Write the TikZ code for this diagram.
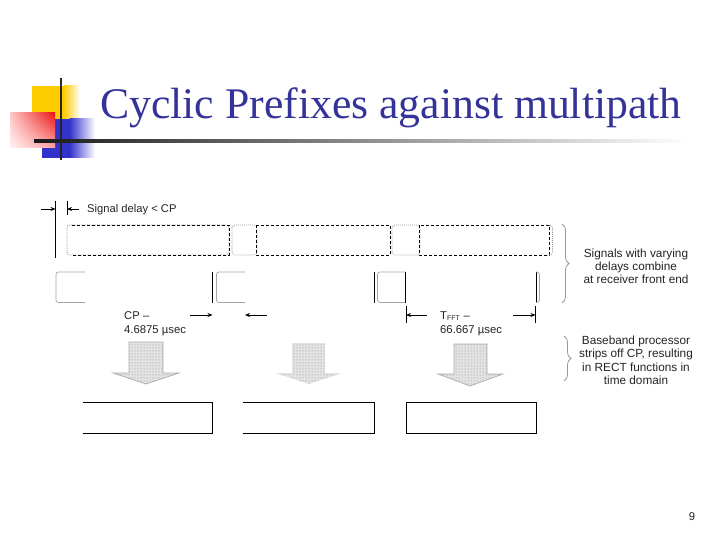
\documentclass[tikz,border=0pt]{standalone}
\usepackage{fontspec}
\setmainfont{Liberation Sans}
\newfontfamily\titlefont{Liberation Serif}
\usetikzlibrary{patterns,decorations.pathreplacing,arrows.meta,shadings}
\definecolor{titleblue}{RGB}{51,51,153}
\definecolor{logoyellow}{RGB}{255,204,0}
\definecolor{logored}{RGB}{235,20,20}
\definecolor{logoblue}{RGB}{51,51,204}
\definecolor{ink}{RGB}{35,35,35}
\begin{document}
\begin{tikzpicture}[x=1pt,y=-1pt,
  lbl/.style={font=\fontsize{11.3}{13}\selectfont, text=ink, inner sep=0pt},
  note/.style={font=\fontsize{11.8}{13}\selectfont, text=ink, inner sep=0pt},
  bodybox/.style={draw=black, dash pattern=on 3pt off 2pt, line width=0.8pt},
  cpbox/.style={draw=gray!75, dash pattern=on 1pt off 1pt, line width=0.8pt, rounded corners=3pt},
  ghost/.style={draw=gray!70, line width=0.7pt, rounded corners=2.5pt},
  solid edge/.style={draw=black, line width=0.8pt},
  tip/.style={-{Stealth[length=5pt,width=4pt]}, line width=0.7pt, draw=black},
  blockarrow/.style={fill=gray!22, postaction={pattern=dots, pattern color=gray!90}},
  rbrace/.style={decorate, decoration={brace, amplitude=7pt}, draw=gray!80, line width=0.8pt},
  resultbox/.style={draw=black, line width=0.9pt}
]
\useasboundingbox (0,0) rectangle (720,540);

% ---------- logo ----------
\fill[logoyellow] (32,86) rectangle (64,120);
\shade[left color=logoyellow, right color=white] (63.5,86) rectangle (80,120);
\fill[logoblue] (42,119) rectangle (70,158);
\shade[left color=logoblue, right color=white] (69.5,119) rectangle (95,158);
\shade[upper right=logored, upper left=red!22, lower right=red!35, lower left=red!5] (10,113) rectangle (55,148);
\fill[black!85] (60,78) rectangle (62.2,160);
\shade[left color=black!90, middle color=black!45, right color=white] (34,140) rectangle (690,142.4);

% ---------- title ----------
\node[anchor=base west, inner sep=0pt, text=titleblue,
      font=\titlefont\fontsize{43.7}{50}\selectfont] (title) at (100,119)
      {Cyclic Prefixes against multipath};

% ---------- signal delay marker ----------
\draw[solid edge] (55.5,201) -- (55.5,258);
\draw[solid edge] (67,201) -- (67,215);
\coordinate (dl0) at (41,209);
\coordinate (dl1) at (55.5,209);
\coordinate (dr0) at (79,209);
\coordinate (dr1) at (67,209);
\draw[tip] (dl0) -- (dl1);
\draw[tip] (dr0) -- (dr1);
\node[lbl, anchor=base west, font=\fontsize{11.2}{12}\selectfont] (sigdelay) at (87,213) {Signal delay < CP};

% ---------- upper row: transmitted symbols ----------
\draw[cpbox] (67,225) rectangle (229,255);
\draw[bodybox] (72,225) -- (229,225) -- (229,255) -- (72,255);
\draw[cpbox] (232,225) rectangle (257,255);
\draw[bodybox] (256,225) rectangle (390,255);
\draw[cpbox] (392,225) rectangle (420,255);
\draw[bodybox] (419,225) rectangle (549,255);
\draw[cpbox] (546,225) -- (552.5,225) -- (552.5,255) -- (546,255);

% ---------- lower row: delayed copies ----------
\draw[ghost] (85,272) -- (56,272) -- (56,302.5) -- (85,302.5);
\draw[solid edge] (212.5,272) -- (212.5,302.5);
\draw[ghost] (245,272) -- (216.5,272) -- (216.5,302.5) -- (245,302.5);
\draw[solid edge] (374.5,272) -- (374.5,302.5);
\draw[ghost] (405.5,272) -- (377.5,272) -- (377.5,302.5) -- (405.5,302.5);
\draw[solid edge] (405.5,272) -- (405.5,302.5);
\draw[solid edge] (536,272) -- (536,302.5);
\draw[ghost] (536,272) -- (539.5,272) -- (539.5,302.5) -- (536,302.5);

% ---------- CP length ----------
\node[lbl, anchor=base west] (cp1) at (124,319) {CP --};
\node[lbl, anchor=base west] (cp2) at (124,333.5) {4.6875 µsec};
\coordinate (ca0) at (190,315);
\coordinate (ca1) at (212.5,315);
\coordinate (cb0) at (267,315);
\coordinate (cb1) at (245,315);
\draw[tip] (ca0) -- (ca1);
\draw[tip] (cb0) -- (cb1);

% ---------- T_FFT length ----------
\draw[solid edge] (406,306) -- (406,323);
\draw[solid edge] (535.5,306) -- (535.5,323);
\coordinate (ta0) at (427,315);
\coordinate (ta1) at (406,315);
\coordinate (tb0) at (513,315);
\coordinate (tb1) at (535.5,315);
\draw[tip] (ta0) -- (ta1);
\draw[tip] (tb0) -- (tb1);
\node[lbl, anchor=base west] (tf1) at (440,319) {T\textsubscript{\fontsize{7}{8}\selectfont FFT} --};
\node[lbl, anchor=base west] (tf2) at (440,333.5) {66.667 µsec};

% ---------- block arrows ----------
\path[blockarrow, draw=gray!65, line width=0.7pt]
  (129,342) -- (163,342) -- (163,373) -- (179,373) -- (146,384) -- (113,373) -- (129,373) -- cycle;
\path[blockarrow]
  (292,343) -- (325,343) -- (325,373) -- (342,373) -- (309,384) -- (275,373) -- (292,373) -- cycle;
\path[blockarrow, draw=gray!65, line width=0.7pt]
  (454,344) -- (487,344) -- (487,374) -- (503,374) -- (470,386) -- (438,374) -- (454,374) -- cycle;

% ---------- result boxes ----------
\draw[resultbox] (83,402.5) -- (212.5,402.5) -- (212.5,433) -- (83,433);
\draw[resultbox] (243,402.5) -- (374,402.5) -- (374,433) -- (243,433);
\draw[resultbox] (406,402.5) rectangle (536,433);

% ---------- braces and notes ----------
\draw[rbrace] (562,224) -- (562,303);
\draw[rbrace] (564,336) -- (564,381);
\node[note, anchor=base] (n1) at (636,257) {Signals with varying};
\node[note, anchor=base] (n2) at (636,270) {delays combine};
\node[note, anchor=base] (n3) at (636,283) {at receiver front end};
\node[note, anchor=base] (m1) at (636,344) {Baseband processor};
\node[note, anchor=base] (m2) at (636,357.5) {strips off CP, resulting};
\node[note, anchor=base] (m3) at (636,371) {in RECT functions in};
\node[note, anchor=base] (m4) at (636,384.5) {time domain};

% ---------- page number ----------
\node[lbl, anchor=base] (page) at (692,520) {9};
\end{tikzpicture}
\end{document}
